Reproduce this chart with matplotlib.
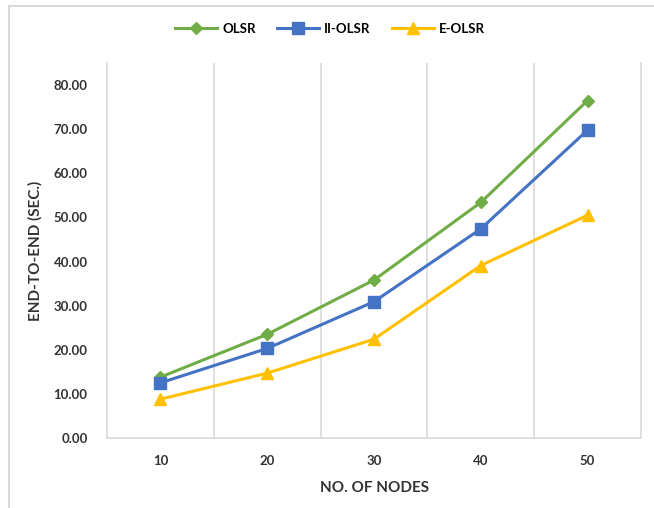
import matplotlib
matplotlib.use("Agg")
import matplotlib.pyplot as plt
from matplotlib.lines import Line2D

# Data
nodes = ["10", "20", "30", "40", "50"]
olsr = [13.8, 23.5, 35.8, 53.4, 76.5]
ii_olsr = [12.5, 20.3, 30.9, 47.4, 69.8]
e_olsr = [8.8, 14.7, 22.4, 39.1, 50.5]

series_names = ["OLSR", "II-OLSR", "E-OLSR"]
y_ticks = [0, 10, 20, 30, 40, 50, 60, 70, 80]

plt.rcParams["font.family"] = ["Lato", "DejaVu Sans"]

W, H = 654, 508
fig = plt.figure(figsize=(W / 100, H / 100), dpi=100)
fig.patch.set_facecolor("white")

# thin outer frame (top and left edges)
fig.add_artist(Line2D([9 / W, 1.0], [1 - 6 / H, 1 - 6 / H], color="#d9d9d9", lw=1.5,
                      transform=fig.transFigure))
fig.add_artist(Line2D([9 / W, 9 / W], [0, 1 - 6 / H], color="#d9d9d9", lw=1.5,
                      transform=fig.transFigure))

left, right = 107 / W, 641 / W
bottom, top = (H - 438) / H, (H - 63) / H
ax = fig.add_axes([left, bottom, right - left, top - bottom])

x = list(range(len(nodes)))
colors = ["#70AD47", "#4472C4", "#FFC000"]
markers = ["D", "s", "^"]
msizes = [6, 8, 8]
for vals, name, c, m, ms in zip([olsr, ii_olsr, e_olsr], series_names, colors, markers, msizes):
    ax.plot(x, vals, color=c, lw=2.2, marker=m, markersize=ms, label=name,
            markeredgecolor=c, markerfacecolor=c, zorder=3)

ax.set_xlim(-0.5, len(nodes) - 0.5)
ax.set_ylim(0, 85)
ax.set_yticks(y_ticks)
ax.set_yticklabels([f"{v:.2f}" for v in y_ticks], fontsize=9.5, fontweight="bold", color="#333333")
ax.set_xticks(x)
ax.set_xticklabels(nodes, fontsize=9.5, fontweight="bold", color="#333333")
ax.tick_params(axis="both", length=0)
ax.tick_params(axis="x", pad=12)
ax.tick_params(axis="y", pad=14)

for xv in [i + 0.5 for i in range(len(nodes) - 1)]:
    ax.axvline(xv, color="#d9d9d9", lw=1.2, zorder=1)

for s in ["left", "right", "bottom"]:
    ax.spines[s].set_color("#d9d9d9")
    ax.spines[s].set_linewidth(1.2)
ax.spines["top"].set_visible(False)

ax.set_xlabel("NO. OF NODES", fontsize=11, fontweight="bold", color="#333333", labelpad=10)
ax.set_ylabel("END-TO-END (SEC.)", fontsize=11, fontweight="bold", color="#333333", labelpad=8)

fig.legend(loc="center", bbox_to_anchor=(330 / W, 1 - 29 / H), ncol=3, frameon=False,
           prop={"weight": "bold", "size": 9.5}, handlelength=3.2, columnspacing=1.6,
           handletextpad=0.4)

fig.savefig("out.png", dpi=100, facecolor="white")
